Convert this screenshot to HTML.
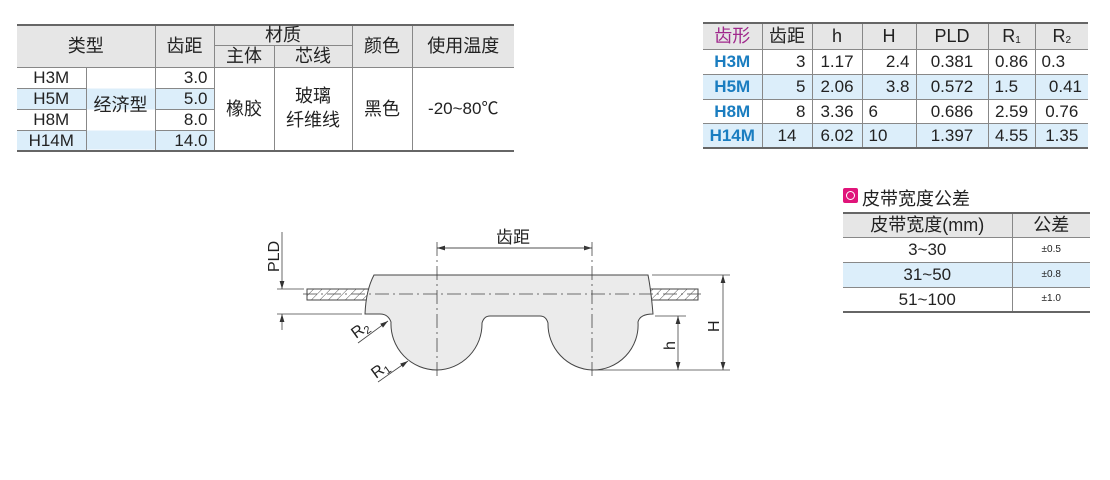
<!DOCTYPE html>
<html><head><meta charset="utf-8"><style>
body{margin:0;width:1110px;height:480px;background:#fff;position:relative;overflow:hidden;font-family:"Liberation Sans","Noto Sans CJK SC",sans-serif;color:#222}
table{position:absolute;border-collapse:collapse;font-size:17px}
td{padding:0;text-align:center;line-height:1}
.b{background:#dceefa}
sub{font-size:10px;vertical-align:-1px}
</style></head><body>

<table style="left:17px;top:24px;width:497px;border-top:2px solid #666;border-bottom:2px solid #666">
<colgroup><col style="width:69px"><col style="width:69px"><col style="width:59px"><col style="width:60px"><col style="width:78px"><col style="width:60px"><col style="width:102px"></colgroup>
<tr style="height:20px;background:#e6e6e6;font-size:18px"><td colspan="2" rowspan="2" style="border-right:1px solid #888">类型</td><td rowspan="2" style="border-right:1px solid #888">齿距</td><td colspan="2" style="border-bottom:1px solid #888;border-right:1px solid #888">材质</td><td rowspan="2" style="border-right:1px solid #888">颜色</td><td rowspan="2">使用温度</td></tr>
<tr style="height:22px;background:#e6e6e6;font-size:18px"><td style="border-right:1px solid #888">主体</td><td style="border-right:1px solid #888">芯线</td></tr>
<tr style="height:21px;border-top:1px solid #888"><td style="border-right:1px solid #888;border-bottom:1px solid #888">H3M</td><td rowspan="4" style="border-right:1px solid #888;background:linear-gradient(#fff 0 21px,#dceefa 21px 42px,#fff 42px 63px,#dceefa 63px)"><span style="position:relative;top:-4px;font-size:18px">经济型</span></td><td style="text-align:right;padding-right:6px;border-right:1px solid #888;border-bottom:1px solid #888">3.0</td><td rowspan="4" style="border-right:1px solid #888;font-size:18px">橡胶</td><td rowspan="4" style="border-right:1px solid #888;line-height:1.3;font-size:18px">玻璃<br>纤维线</td><td rowspan="4" style="border-right:1px solid #888;font-size:18px">黑色</td><td rowspan="4">-20~80℃</td></tr>
<tr style="height:21px" class="b"><td style="border-right:1px solid #888;border-bottom:1px solid #888">H5M</td><td style="text-align:right;padding-right:6px;border-right:1px solid #888;border-bottom:1px solid #888">5.0</td></tr>
<tr style="height:21px"><td style="border-right:1px solid #888;border-bottom:1px solid #888">H8M</td><td style="text-align:right;padding-right:6px;border-right:1px solid #888;border-bottom:1px solid #888">8.0</td></tr>
<tr style="height:21px" class="b"><td style="border-right:1px solid #888">H14M</td><td style="text-align:right;padding-right:6px;border-right:1px solid #888">14.0</td></tr>
</table>

<table style="left:703px;top:22px;width:385px;border-top:2px solid #666;border-bottom:2px solid #666;font-size:17px">
<colgroup><col style="width:59px"><col style="width:50px"><col style="width:50px"><col style="width:54px"><col style="width:72px"><col style="width:47px"><col style="width:53px"></colgroup>
<tr style="height:26px;background:#e6e6e6;font-size:18px"><td style="color:#a0288c;border-right:1px solid #888">齿形</td><td style="border-right:1px solid #888">齿距</td><td style="border-right:1px solid #888">h</td><td style="border-right:1px solid #888">H</td><td style="border-right:1px solid #888">PLD</td><td style="border-right:1px solid #888">R<sub>1</sub></td><td>R<sub>2</sub></td></tr>
<tr style="height:25px;border-top:1px solid #888"><td style="color:#1a7dc0;font-weight:bold;border-right:1px solid #888">H3M</td><td style="text-align:right;padding-right:6px;border-right:1px solid #888">3</td><td style="border-right:1px solid #888">1.17</td><td style="text-align:right;padding-right:6px;border-right:1px solid #888">2.4</td><td style="border-right:1px solid #888">0.381</td><td style="border-right:1px solid #888">0.86</td><td style="text-align:left;padding-left:6px">0.3</td></tr>
<tr style="height:25px;border-top:1px solid #888" class="b"><td style="color:#1a7dc0;font-weight:bold;border-right:1px solid #888">H5M</td><td style="text-align:right;padding-right:6px;border-right:1px solid #888">5</td><td style="border-right:1px solid #888">2.06</td><td style="text-align:right;padding-right:6px;border-right:1px solid #888">3.8</td><td style="border-right:1px solid #888">0.572</td><td style="text-align:left;padding-left:6px;border-right:1px solid #888">1.5</td><td style="text-align:right;padding-right:6px">0.41</td></tr>
<tr style="height:24px;border-top:1px solid #888"><td style="color:#1a7dc0;font-weight:bold;border-right:1px solid #888">H8M</td><td style="text-align:right;padding-right:6px;border-right:1px solid #888">8</td><td style="border-right:1px solid #888">3.36</td><td style="text-align:left;padding-left:6px;border-right:1px solid #888">6</td><td style="border-right:1px solid #888">0.686</td><td style="border-right:1px solid #888">2.59</td><td>0.76</td></tr>
<tr style="height:25px;border-top:1px solid #888" class="b"><td style="color:#1a7dc0;font-weight:bold;border-right:1px solid #888">H14M</td><td style="border-right:1px solid #888">14</td><td style="border-right:1px solid #888">6.02</td><td style="text-align:left;padding-left:6px;border-right:1px solid #888">10</td><td style="border-right:1px solid #888">1.397</td><td style="border-right:1px solid #888">4.55</td><td>1.35</td></tr>
</table>

<div style="position:absolute;left:843px;top:188px;width:15px;height:15px;background:#e0147a;border-radius:2px"><div style="position:absolute;left:3px;top:3px;width:7px;height:7px;border:1.5px solid #fff;border-radius:50%"></div></div>
<div style="position:absolute;left:862px;top:185px;font-size:18px">皮带宽度公差</div>
<table style="left:843px;top:212px;width:247px;border-top:2px solid #666;border-bottom:2px solid #666">
<colgroup><col style="width:169px"><col style="width:78px"></colgroup>
<tr style="height:24px;background:#e6e6e6;font-size:18px"><td style="border-right:1px solid #888">皮带宽度(mm)</td><td>公差</td></tr>
<tr style="height:25px;border-top:1px solid #888"><td style="border-right:1px solid #888">3~30</td><td style="font-size:10px">±0.5</td></tr>
<tr style="height:25px;border-top:1px solid #888" class="b"><td style="border-right:1px solid #888">31~50</td><td style="font-size:10px">±0.8</td></tr>
<tr style="height:25px;border-top:1px solid #888"><td style="border-right:1px solid #888">51~100</td><td style="font-size:10px">±1.0</td></tr>
</table>

<svg width="1110" height="480" style="position:absolute;left:0;top:0">
<defs>
<pattern id="h" width="6" height="6" patternUnits="userSpaceOnUse" patternTransform="rotate(45)"><line x1="0" y1="0" x2="0" y2="6" stroke="#555" stroke-width="1"/></pattern>
<marker id="a" markerWidth="10" markerHeight="6" refX="10" refY="3" orient="auto"><path d="M0,0L10,3L0,6z" fill="#333"/></marker>
</defs>
<rect x="307" y="289" width="62" height="11" fill="url(#h)" stroke="#444"/>
<rect x="650" y="289" width="48" height="11" fill="url(#h)" stroke="#444"/>
<path d="M374,275 L648,275 Q651,290 653,314 Q640,314 638,322 A45,45 0 0 1 592,370 A46,46 0 0 1 548,323 Q546,316 540,316 L490,316 Q484,316 482,323 A46,46 0 0 1 437,370 A46,46 0 0 1 391,322 Q388,314 380,314 L365,314 Q366,290 374,275Z" fill="#ebebeb" stroke="#444" stroke-width="1"/>
<g stroke="#444" stroke-width="0.8" fill="none">
<line x1="303" y1="294" x2="702" y2="294" stroke-dasharray="14,4,2,4"/>
<line x1="437" y1="242" x2="437" y2="378" stroke-dasharray="14,4,2,4"/>
<line x1="592" y1="242" x2="592" y2="378" stroke-dasharray="14,4,2,4"/>
<line x1="437" y1="248" x2="592" y2="248" marker-end="url(#a)"/>
<line x1="592" y1="248" x2="437" y2="248" marker-end="url(#a)"/>
<line x1="277" y1="289" x2="304" y2="289"/>
<line x1="277" y1="314" x2="362" y2="314"/>
<line x1="282" y1="232" x2="282" y2="289" marker-end="url(#a)"/>
<line x1="282" y1="330" x2="282" y2="314" marker-end="url(#a)"/>
<line x1="652" y1="275" x2="730" y2="275"/>
<line x1="595" y1="370" x2="730" y2="370"/>
<line x1="655" y1="316" x2="686" y2="316"/>
<line x1="723" y1="322" x2="723" y2="275" marker-end="url(#a)"/>
<line x1="723" y1="322" x2="723" y2="370" marker-end="url(#a)"/>
<line x1="678" y1="343" x2="678" y2="316" marker-end="url(#a)"/>
<line x1="678" y1="343" x2="678" y2="370" marker-end="url(#a)"/>
<line x1="358" y1="343" x2="388" y2="321" marker-end="url(#a)"/>
<line x1="378" y1="382" x2="408" y2="361" marker-end="url(#a)"/>
</g>
<g font-family="Liberation Sans,Noto Sans CJK SC,sans-serif" font-size="16" fill="#222">
<text x="496" y="243" font-size="17">齿距</text>
<text transform="translate(279,272) rotate(-90)">PLD</text>
<text transform="translate(719,332) rotate(-90)">H</text>
<text transform="translate(675,350) rotate(-90)">h</text>
<text transform="translate(356,339) rotate(-36)">R<tspan font-size="11" dy="3">2</tspan></text>
<text transform="translate(376,379) rotate(-36)">R<tspan font-size="11" dy="3">1</tspan></text>
</g>
</svg>
</body></html>
